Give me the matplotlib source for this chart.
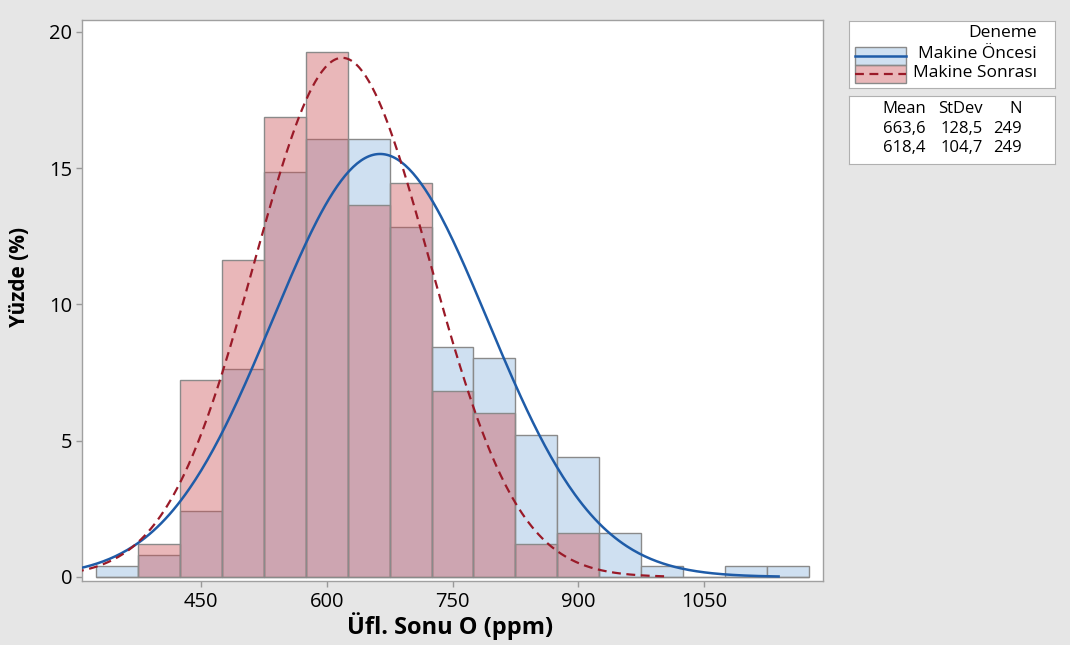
import numpy as np
import matplotlib
matplotlib.use("Agg")
import matplotlib.pyplot as plt
from matplotlib.patches import Rectangle
from matplotlib.lines import Line2D

plt.rcParams['font.family'] = ['Open Sans', 'DejaVu Sans']

# bin centers (width 50) and counts, N = 249 each
bin_centers = [350, 400, 450, 500, 550, 600, 650, 700, 750, 800,
               850, 900, 950, 1000, 1050, 1100, 1150]
bin_width = 50
counts_oncesi = [1, 2, 6, 19, 37, 40, 40, 32, 21, 20, 13, 11, 4, 1, 0, 1, 1]
counts_sonrasi = [0, 3, 18, 29, 42, 48, 34, 36, 17, 15, 3, 4, 0, 0, 0, 0, 0]
n_obs = 249

groups = ['Makine Öncesi', 'Makine Sonrası']
means = [663.6, 618.4]
stdevs = [128.5, 104.7]

xticks = [450, 600, 750, 900, 1050]
yticks = [0, 5, 10, 15, 20]

bg = '#e6e6e6'
blue_fill = '#cfe0f1'
red_fill = (202/255, 77/255, 82/255, 0.4)
blue_line = '#1f5ca8'
red_line = '#9a1a28'
edge = '#8a8a8a'

fig = plt.figure(figsize=(10.7, 6.45), dpi=100, facecolor=bg)
ax = fig.add_axes([82/1070, 64/645, 741/1070, 561/645])
ax.set_facecolor('white')

pct_o = np.array(counts_oncesi) / n_obs * 100
pct_s = np.array(counts_sonrasi) / n_obs * 100
ax.bar(bin_centers, pct_o, width=bin_width, color=blue_fill, edgecolor=edge, linewidth=1, zorder=2)
ax.bar(bin_centers, pct_s, width=bin_width, color=red_fill, edgecolor=edge, linewidth=1, zorder=3)

# fitted normal curves scaled to percent per bin
styles = [dict(color=blue_line, lw=1.8, ls='-'), dict(color=red_line, lw=1.6, ls=(0, (4, 2.5)))]
for m, s, st in zip(means, stdevs, styles):
    xs = np.linspace(m - 3.7 * s, m + 3.7 * s, 400)
    ys = bin_width * 100 / (s * np.sqrt(2 * np.pi)) * np.exp(-0.5 * ((xs - m) / s) ** 2)
    ax.plot(xs, ys, zorder=4, **st)

ax.set_xlim(308, 1192)
ax.set_ylim(-0.15, 20.44)
ax.set_xticks(xticks)
ax.set_yticks(yticks)
ax.tick_params(axis='both', colors='#999999', labelcolor='black', labelsize=14.5, length=4, width=1)
ax.tick_params(axis='x', pad=4)
ax.tick_params(axis='y', pad=3)
for sp in ax.spines.values():
    sp.set_color('#a0a0a0')
    sp.set_linewidth(1)

fig.text(20/1070, 1 - 277/645, 'Yüzde (%)', rotation=90, ha='center', va='center',
         fontsize=15, fontweight='bold')
fig.text(450/1070, 1 - 626/645, 'Üfl. Sonu O (ppm)', ha='center', va='center',
         fontsize=17, fontweight='bold')

# legend box: groups
lg = fig.add_axes([849/1070, 1 - 88/645, 206/1070, 67/645])
lg.set_xlim(0, 206)
lg.set_ylim(67, 0)
lg.set_xticks([])
lg.set_yticks([])
for sp in lg.spines.values():
    sp.set_color('#b0b0b0')
lg.text(188, 12, 'Deneme', ha='right', va='center', fontsize=12.5)
lg.add_patch(Rectangle((6, 25.5), 51, 18, facecolor=blue_fill, edgecolor=edge, lw=1))
lg.add_patch(Rectangle((6, 43.5), 51, 18, facecolor=red_fill, edgecolor=edge, lw=1))
lg.add_line(Line2D([6, 57], [34.5, 34.5], **styles[0]))
lg.add_line(Line2D([6, 57], [52.5, 52.5], **styles[1]))
lg.text(188, 33, groups[0], ha='right', va='center', fontsize=12.5)
lg.text(188, 52, groups[1], ha='right', va='center', fontsize=12.5)

# stats box
sb = fig.add_axes([849/1070, 1 - 164/645, 206/1070, 68/645])
sb.set_xlim(0, 206)
sb.set_ylim(68, 0)
sb.set_xticks([])
sb.set_yticks([])
for sp in sb.spines.values():
    sp.set_color('#b0b0b0')
col_x = [77, 134, 173]
for x, h in zip(col_x, ['Mean', 'StDev', 'N']):
    sb.text(x, 13, h, ha='right', va='center', fontsize=12)
for row_y, m, s in zip([33, 52], means, stdevs):
    vals = [f'{m:.1f}'.replace('.', ','), f'{s:.1f}'.replace('.', ','), str(n_obs)]
    for x, v in zip(col_x, vals):
        sb.text(x, row_y, v, ha='right', va='center', fontsize=12)

fig.savefig('out.png', dpi=100, facecolor=bg)
